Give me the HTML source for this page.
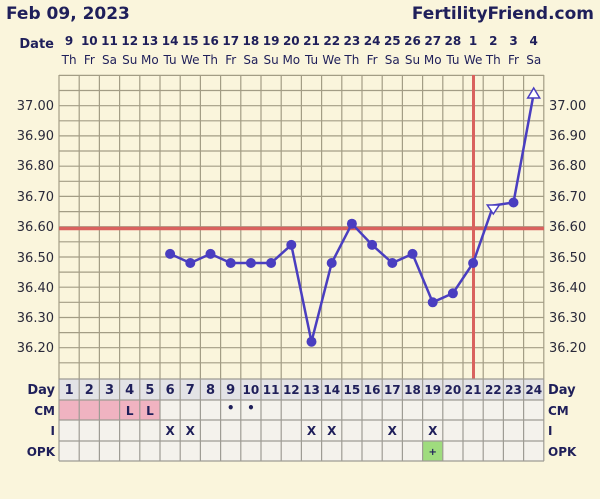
<!DOCTYPE html><html><head><style>body{margin:0;background:#faf5dc}svg{display:block}text{font-family:"DejaVu Sans","Liberation Sans",sans-serif}</style></head><body>
<svg width="600" height="499" xmlns="http://www.w3.org/2000/svg">
<rect width="600" height="499" fill="#faf5dc"/>
<text x="6" y="19" font-size="17" font-weight="bold" fill="#1f1f5a">Feb 09, 2023</text>
<text x="594" y="19" font-size="17" font-weight="bold" fill="#1f1f5a" text-anchor="end">FertilityFriend.com</text>
<text x="54" y="48" font-size="13" font-weight="bold" fill="#1f1f5a" text-anchor="end">Date</text>
<g font-size="12" font-weight="bold" fill="#1f1f5a" text-anchor="middle" id="d">
<text x="69.1" y="45">9</text><text x="89.3" y="45">10</text><text x="109.5" y="45">11</text><text x="129.7" y="45">12</text><text x="149.9" y="45">13</text><text x="170.1" y="45">14</text><text x="190.3" y="45">15</text><text x="210.5" y="45">16</text><text x="230.7" y="45">17</text><text x="250.9" y="45">18</text><text x="271.1" y="45">19</text><text x="291.3" y="45">20</text><text x="311.5" y="45">21</text><text x="331.7" y="45">22</text><text x="351.9" y="45">23</text><text x="372.1" y="45">24</text><text x="392.3" y="45">25</text><text x="412.5" y="45">26</text><text x="432.7" y="45">27</text><text x="452.9" y="45">28</text><text x="473.1" y="45">1</text><text x="493.3" y="45">2</text><text x="513.5" y="45">3</text><text x="533.7" y="45">4</text>
</g>
<g font-size="12" fill="#1f1f5a" text-anchor="middle">
<text x="69.1" y="64">Th</text><text x="89.3" y="64">Fr</text><text x="109.5" y="64">Sa</text><text x="129.7" y="64">Su</text><text x="149.9" y="64">Mo</text><text x="170.1" y="64">Tu</text><text x="190.3" y="64">We</text><text x="210.5" y="64">Th</text><text x="230.7" y="64">Fr</text><text x="250.9" y="64">Sa</text><text x="271.1" y="64">Su</text><text x="291.3" y="64">Mo</text><text x="311.5" y="64">Tu</text><text x="331.7" y="64">We</text><text x="351.9" y="64">Th</text><text x="372.1" y="64">Fr</text><text x="392.3" y="64">Sa</text><text x="412.5" y="64">Su</text><text x="432.7" y="64">Mo</text><text x="452.9" y="64">Tu</text><text x="473.1" y="64">We</text><text x="493.3" y="64">Th</text><text x="513.5" y="64">Fr</text><text x="533.7" y="64">Sa</text>
</g>
<!-- grid -->
<g stroke="#a39d85" stroke-width="1.2">
<path d="M59 75.4H544 M59 90.5H544 M59 105.7H544 M59 120.8H544 M59 135.9H544 M59 151H544 M59 166.2H544 M59 181.3H544 M59 196.4H544 M59 211.6H544 M59 226.7H544 M59 241.8H544 M59 257H544 M59 272.1H544 M59 287.2H544 M59 302.3H544 M59 317.5H544 M59 332.6H544 M59 347.7H544 M59 362.8H544"/>
<path d="M59 75V379 M79.2 75V379 M99.4 75V379 M119.6 75V379 M139.8 75V379 M160 75V379 M180.2 75V379 M200.4 75V379 M220.6 75V379 M240.8 75V379 M261 75V379 M281.2 75V379 M301.4 75V379 M321.6 75V379 M341.8 75V379 M362 75V379 M382.2 75V379 M402.4 75V379 M422.6 75V379 M442.8 75V379 M463 75V379 M483.2 75V379 M503.4 75V379 M523.6 75V379 M543.8 75V379"/>
</g>
<g font-size="13" fill="#2a2a3a">
<g text-anchor="end"><text x="54" y="110">37.00</text><text x="54" y="140">36.90</text><text x="54" y="170">36.80</text><text x="54" y="201">36.70</text><text x="54" y="231">36.60</text><text x="54" y="262">36.50</text><text x="54" y="292">36.40</text><text x="54" y="322">36.30</text><text x="54" y="352">36.20</text></g>
<text x="549" y="110">37.00</text><text x="549" y="140">36.90</text><text x="549" y="170">36.80</text><text x="549" y="201">36.70</text><text x="549" y="231">36.60</text><text x="549" y="262">36.50</text><text x="549" y="292">36.40</text><text x="549" y="322">36.30</text><text x="549" y="352">36.20</text>
</g>
<path d="M59 228.5H544" stroke="#d9625e" stroke-width="3.5"/>
<path d="M473.5 75V379" stroke="#d9625e" stroke-width="3"/>
<polyline fill="none" stroke="#4a3ec0" stroke-width="2.5" points="170.1,253.9 190.3,263 210.5,253.9 230.7,263 250.9,263 271.1,263 291.3,244.9 311.5,341.7 331.7,263 351.9,223.7 372.1,244.9 392.3,263 412.5,253.9 432.7,302.3 452.9,293.3 473.1,263 493.3,205.5 513.5,202.5 533.7,93.6"/>
<g fill="#4a3ec0">
<circle cx="170.1" cy="253.9" r="5"/><circle cx="190.3" cy="263" r="5"/><circle cx="210.5" cy="253.9" r="5"/><circle cx="230.7" cy="263" r="5"/><circle cx="250.9" cy="263" r="5"/><circle cx="271.1" cy="263" r="5"/><circle cx="291.3" cy="244.9" r="5"/><circle cx="311.5" cy="341.7" r="5"/><circle cx="331.7" cy="263" r="5"/><circle cx="351.9" cy="223.7" r="5"/><circle cx="372.1" cy="244.9" r="5"/><circle cx="392.3" cy="263" r="5"/><circle cx="412.5" cy="253.9" r="5"/><circle cx="432.7" cy="302.3" r="5"/><circle cx="452.9" cy="293.3" r="5"/><circle cx="473.1" cy="263" r="5"/><circle cx="513.5" cy="202.5" r="5"/>
</g>
<polygon points="487.3,205 499.3,205 493.3,214" fill="#fff" stroke="#4a3ec0" stroke-width="1.5"/>
<polygon points="527.7,98 539.7,98 533.7,88" fill="#fff" stroke="#4a3ec0" stroke-width="1.5"/>
<!-- table -->
<rect x="59" y="379" width="485" height="21" fill="#e3e3e6"/>
<rect x="59" y="400" width="485" height="61" fill="#f4f2ec"/>
<rect x="59" y="400" width="101" height="20" fill="#f0b3c1"/>
<rect x="422.6" y="441" width="20.2" height="20" fill="#9fdc7e"/>
<g stroke="#9e9c94" stroke-width="1.2">
<path d="M59 379H544 M59 400H544 M59 420H544 M59 441H544 M59 461H544"/>
<path d="M59 379V461 M79.2 379V461 M99.4 379V461 M119.6 379V461 M139.8 379V461 M160 379V461 M180.2 379V461 M200.4 379V461 M220.6 379V461 M240.8 379V461 M261 379V461 M281.2 379V461 M301.4 379V461 M321.6 379V461 M341.8 379V461 M362 379V461 M382.2 379V461 M402.4 379V461 M422.6 379V461 M442.8 379V461 M463 379V461 M483.2 379V461 M503.4 379V461 M523.6 379V461 M543.8 379V461"/>
</g>
<g font-size="13" font-weight="bold" fill="#1f1f5a" text-anchor="middle">
<text x="69.1" y="394">1</text><text x="89.3" y="394">2</text><text x="109.5" y="394">3</text><text x="129.7" y="394">4</text><text x="149.9" y="394">5</text><text x="170.1" y="394">6</text><text x="190.3" y="394">7</text><text x="210.5" y="394">8</text><text x="230.7" y="394">9</text><text x="250.9" y="394" font-size="12">10</text><text x="271.1" y="394" font-size="12">11</text><text x="291.3" y="394" font-size="12">12</text><text x="311.5" y="394" font-size="12">13</text><text x="331.7" y="394" font-size="12">14</text><text x="351.9" y="394" font-size="12">15</text><text x="372.1" y="394" font-size="12">16</text><text x="392.3" y="394" font-size="12">17</text><text x="412.5" y="394" font-size="12">18</text><text x="432.7" y="394" font-size="12">19</text><text x="452.9" y="394" font-size="12">20</text><text x="473.1" y="394" font-size="12">21</text><text x="493.3" y="394" font-size="12">22</text><text x="513.5" y="394" font-size="12">23</text><text x="533.7" y="394" font-size="12">24</text>
<text x="129.7" y="415" font-size="12">L</text><text x="149.9" y="415" font-size="12">L</text>
<text x="230.7" y="412" font-size="12">•</text><text x="250.9" y="412" font-size="12">•</text>
<g font-size="12"><text x="170.1" y="435">X</text><text x="190.3" y="435">X</text><text x="311.5" y="435">X</text><text x="331.7" y="435">X</text><text x="392.3" y="435">X</text><text x="432.7" y="435">X</text></g>
<text x="432.7" y="455" font-size="10">+</text>
</g>
<g font-size="12" font-weight="bold" fill="#1f1f5a">
<g text-anchor="end"><text x="55" y="394" font-size="13">Day</text><text x="55" y="415">CM</text><text x="55" y="435">I</text><text x="55" y="456">OPK</text></g>
<text x="548" y="394" font-size="13">Day</text><text x="548" y="415">CM</text><text x="548" y="435">I</text><text x="548" y="456">OPK</text>
</g>
</svg></body></html>
